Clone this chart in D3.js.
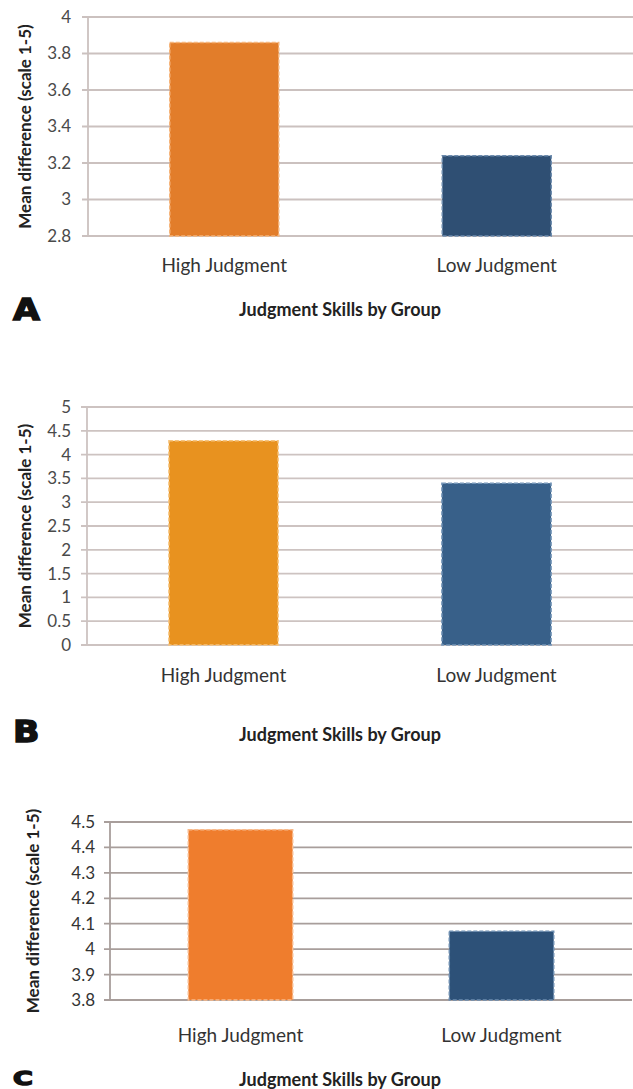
<!DOCTYPE html>
<html>
<head>
<meta charset="utf-8">
<script src="https://cdn.jsdelivr.net/npm/d3@7"></script>
<style>
    body { margin: 0; background: #fff; }
    svg { display: block; }
</style>
</head>
<body>
<div id="chart"></div>
<script>
// Data
var categories = ["High Judgment", "Low Judgment"];
var valuesA = [3.86, 3.24];
var valuesB = [4.29, 3.40];
var valuesC = [4.47, 4.07];
var ticksA = [2.8, 3, 3.2, 3.4, 3.6, 3.8, 4];
var ticksB = [0, 0.5, 1, 1.5, 2, 2.5, 3, 3.5, 4, 4.5, 5];
var ticksC = [3.8, 3.9, 4, 4.1, 4.2, 4.3, 4.4, 4.5];
var panelLetters = ["A", "B", "C"];
var yTitle = "Mean difference (scale 1-5)";
var xTitle = "Judgment Skills by Group";

var svgWidth = 633;
var svgHeight = 1089;

var svg = d3.select("#chart")
    .append("svg")
    .attr("width", svgWidth)
    .attr("height", svgHeight);

// Layout of each panel (pixels)
var panels = [
    { values: valuesA, ticks: ticksA, letter: panelLetters[0],
      left: 88, right: 633, top: 17, bottom: 236,
      labelX: 71, yTitleX: 25, catY: 265, footY: 310,
      letterY: 320, letterSize: 31, letterScale: 1.12,
      colors: ["#e27d2a", "#2f4f73"], strokes: ["#f5b47a", "#6d8cae"],
      grid: "#cbc1bf", tickColor: "#4a4a4a" },
    { values: valuesB, ticks: ticksB, letter: panelLetters[1],
      left: 87, right: 633, top: 407, bottom: 645,
      labelX: 71, yTitleX: 25, catY: 675, footY: 735,
      letterY: 742, letterSize: 31, letterScale: 1.12,
      colors: ["#e8921f", "#386089"], strokes: ["#f6c47e", "#7596b8"],
      grid: "#cdc3c1", tickColor: "#4a4a4a" },
    { values: valuesC, ticks: ticksC, letter: panelLetters[2],
      left: 110, right: 632, top: 822, bottom: 1000,
      labelX: 95, yTitleX: 33, catY: 1035, footY: 1080,
      letterY: 1085, letterSize: 20, letterScale: 1.35,
      colors: ["#ef7d2d", "#2d5178"], strokes: ["#f8b98a", "#6c8db0"],
      grid: "#a89e9b", tickColor: "#333" }
];

function drawPanel(p) {
    var g = svg.append("g");

    var x = d3.scaleBand()
        .domain(categories)
        .range([p.left, p.right]);

    var y = d3.scaleLinear()
        .domain([p.ticks[0], p.ticks[p.ticks.length - 1]])
        .range([p.bottom, p.top]);

    // Gridlines with short ticks to the left of the axis
    g.selectAll(".grid")
        .data(p.ticks)
        .enter()
        .append("line")
        .attr("x1", p.left - 6)
        .attr("x2", p.right)
        .attr("y1", d => y(d))
        .attr("y2", d => y(d))
        .attr("stroke", p.grid)
        .attr("stroke-width", 1.8);

    // Vertical axis line
    g.append("line")
        .attr("x1", p.left)
        .attr("x2", p.left)
        .attr("y1", p.top)
        .attr("y2", p.bottom)
        .attr("stroke", p.grid)
        .attr("stroke-width", 1.8);

    // Tick labels
    g.selectAll(".tickLabel")
        .data(p.ticks)
        .enter()
        .append("text")
        .attr("x", p.labelX)
        .attr("y", d => y(d))
        .attr("dy", "0.35em")
        .attr("text-anchor", "end")
        .attr("font-family", "Lato, 'Open Sans', sans-serif")
        .attr("font-size", "17px")
        .attr("fill", p.tickColor)
        .text(d => String(d));

    // Bars
    var barWidth = x.step() * 0.4;
    g.selectAll(".bar")
        .data(p.values)
        .enter()
        .append("rect")
        .attr("x", (d, i) => x(categories[i]) + x.bandwidth() / 2 - barWidth / 2)
        .attr("y", d => y(d))
        .attr("width", barWidth)
        .attr("height", d => y(p.ticks[0]) - y(d))
        .attr("fill", (d, i) => p.colors[i])
        .attr("stroke", (d, i) => p.strokes[i])
        .attr("stroke-width", 1.5)
        .attr("stroke-dasharray", "4,2");

    // Category labels
    g.selectAll(".catLabel")
        .data(categories)
        .enter()
        .append("text")
        .attr("x", d => x(d) + x.bandwidth() / 2)
        .attr("y", p.catY)
        .attr("dy", "0.35em")
        .attr("text-anchor", "middle")
        .attr("font-family", "Lato, 'Open Sans', sans-serif")
        .attr("font-size", "19px")
        .attr("fill", "#333")
        .text(d => d);

    // Y axis title
    g.append("text")
        .attr("transform", `translate(${p.yTitleX}, ${(p.top + p.bottom) / 2}) rotate(-90)`)
        .attr("dy", "0.35em")
        .attr("text-anchor", "middle")
        .attr("font-family", "Lato, 'Open Sans', sans-serif")
        .attr("font-weight", "bold")
        .attr("font-size", "17px")
        .attr("fill", "#222")
        .text(yTitle);

    // X axis title
    g.append("text")
        .attr("x", 340)
        .attr("y", p.footY)
        .attr("dy", "0.35em")
        .attr("text-anchor", "middle")
        .attr("font-family", "Lato, 'Open Sans', sans-serif")
        .attr("font-weight", "bold")
        .attr("font-size", "18px")
        .attr("fill", "#222")
        .text(xTitle);

    // Panel letter (heavy, wide glyph)
    g.append("text")
        .attr("transform", `translate(13, ${p.letterY}) scale(${p.letterScale}, 1)`)
        .attr("font-family", "'DejaVu Sans', sans-serif")
        .attr("font-weight", "bold")
        .attr("font-size", p.letterSize + "px")
        .attr("fill", "#111")
        .attr("stroke", "#111")
        .attr("stroke-width", 1.5)
        .text(p.letter);
}

panels.forEach(drawPanel);
</script>
</body>
</html>
